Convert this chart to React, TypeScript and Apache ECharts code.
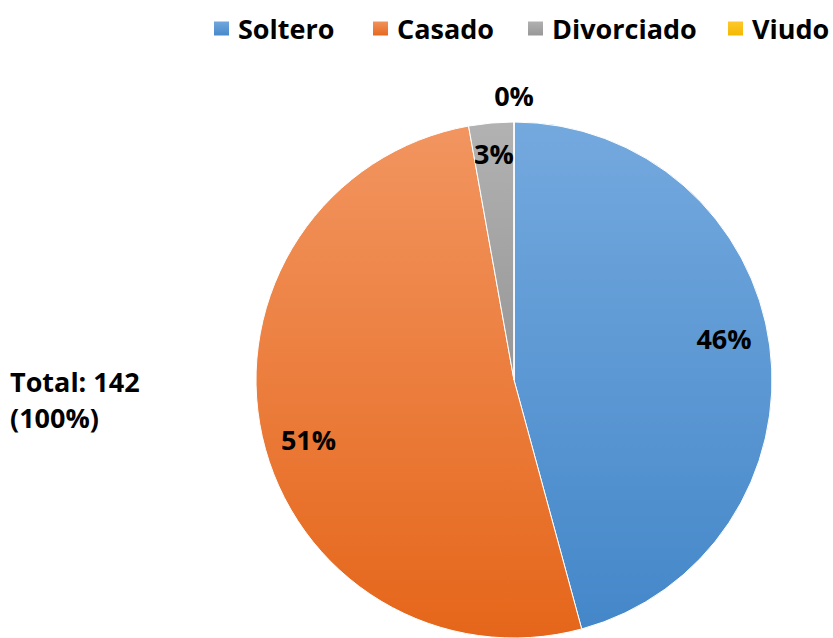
import React, { useEffect, useRef } from "react";
import * as echarts from "echarts";

const categories = ["Soltero", "Casado", "Divorciado", "Viudo"];
const values = [65, 73, 4, 0];
const totalLabel = ["Total: 142", "(100%)"];

const topColors = ["#74A9DE", "#F29560", "#B2B2B2", "#FFC92E"];
const bottomColors = ["#4487C9", "#E5661A", "#969696", "#F2B800"];
const legendLeft = [212, 371, 526, 726];

const FONT = "'Open Sans', Lato, sans-serif";

export default function App() {
  const ref = useRef<HTMLDivElement>(null);

  useEffect(() => {
    if (!ref.current) return;
    const chart = echarts.init(ref.current, undefined, { renderer: "svg" });
    const total = values.reduce((a, b) => a + b, 0);
    const grad = (i: number) =>
      new echarts.graphic.LinearGradient(0, 0, 0, 1, [
        { offset: 0, color: topColors[i] },
        { offset: 1, color: bottomColors[i] },
      ]);
    const pct = (v: number) => Math.round((v / total) * 100) + "%";
    const labelStyle = {
      color: "#000",
      fontFamily: FONT,
      fontWeight: "bold" as const,
      fontSize: 27,
    };
    const center = [514, 380];
    const R = 258;

    const labelSeries = (radius: number[], show: number[], startAngle: number) => ({
      type: "pie",
      center,
      radius,
      startAngle,
      clockwise: true,
      silent: true,
      legendHoverLink: false,
      itemStyle: { color: "transparent" },
      labelLine: { show: false },
      label: {
        show: true,
        position: "inside",
        ...labelStyle,
        formatter: (p: any) => pct(p.value),
      },
      data: categories.map((c, i) => ({
        name: c,
        value: values[i],
        label: { show: show.includes(i) },
      })),
    });

    chart.setOption({
      animation: false,
      backgroundColor: "#fff",
      legend: categories.map((c, i) => ({
        top: 15,
        left: legendLeft[i],
        padding: 0,
        itemWidth: 17,
        itemHeight: 16,
        icon: "rect",
        textStyle: { ...labelStyle, fontSize: 27, padding: [0, 0, 0, 3] },
        data: [{ name: c, itemStyle: { color: grad(i) } }],
      })),
      graphic: [
        {
          type: "text",
          left: 10,
          top: 363,
          style: {
            text: totalLabel.join("\n"),
            font: `bold 27px ${FONT}`,
            fill: "#000",
            lineHeight: 36,
          },
        },
      ],
      series: [
        {
          type: "pie",
          center,
          radius: R,
          startAngle: 90,
          clockwise: true,
          silent: true,
          label: { show: false },
          labelLine: { show: false },
          itemStyle: { borderColor: "#fff", borderWidth: 1 },
          data: categories.map((c, i) => ({
            name: c,
            value: values[i],
            itemStyle: { color: grad(i) },
          })),
        },
        labelSeries([164, R], [0, 1], 93.5),
        labelSeries([190, R], [2], 90),
        labelSeries([R, 306], [3], 90),
      ],
    });
    return () => chart.dispose();
  }, []);

  return (
    <div
      ref={ref}
      style={{ position: "fixed", left: 0, top: 0, width: 833, height: 638 }}
    />
  );
}
